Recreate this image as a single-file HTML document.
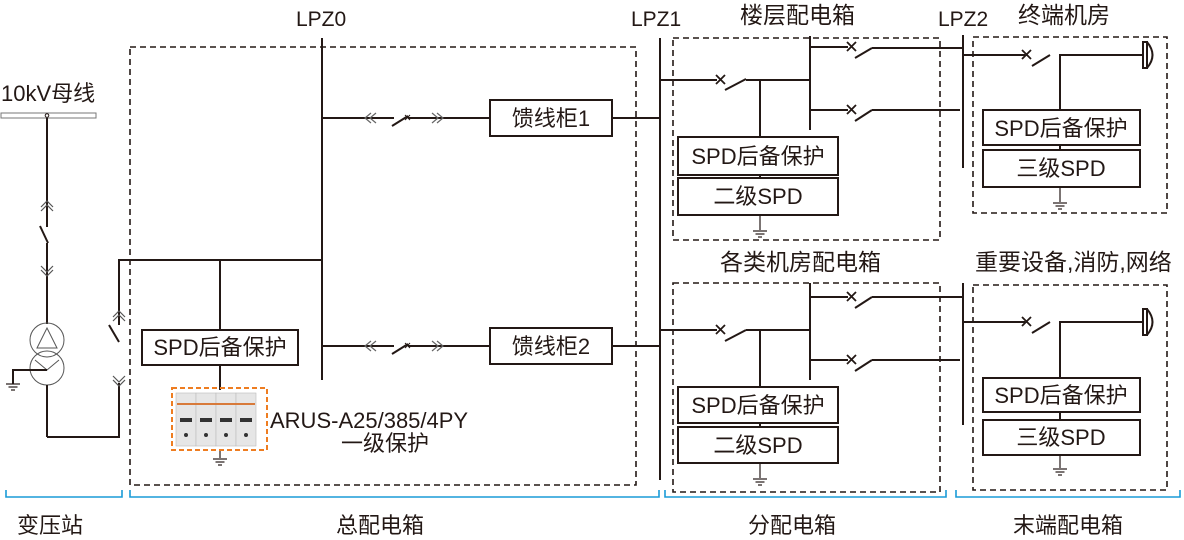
<!DOCTYPE html>
<html><head><meta charset="utf-8"><style>
html,body{margin:0;padding:0;background:#fff;}
svg{display:block;}
text{font-family:"Liberation Sans","Noto Sans CJK SC",sans-serif;fill:#231815;}
</style></head><body>
<svg width="1184" height="540" viewBox="0 0 1184 540" xmlns="http://www.w3.org/2000/svg">
<defs>
<g id="gnd" stroke="#231815" stroke-width="1.2"><line x1="-7" y1="0" x2="7" y2="0"/><line x1="-4.5" y1="3" x2="4.5" y2="3"/><line x1="-2" y1="6" x2="2" y2="6"/></g>
</defs>
<g fill="none" stroke="#231815" stroke-width="2">
<g stroke-dasharray="6,4" stroke-width="1.6">
<rect x="130" y="47" width="506" height="438"/>
<rect x="673" y="38" width="267" height="202"/>
<rect x="973" y="37" width="194" height="176"/>
<rect x="673" y="283" width="267" height="209"/>
<rect x="973" y="285" width="194" height="205"/>
</g>
<rect x="1" y="113" width="95" height="5" stroke="#777" stroke-width="1"/>
<circle cx="47" cy="115.5" r="1.8" stroke-width="1"/>
<line x1="47" y1="118" x2="47" y2="227"/>
<line x1="40" y1="226" x2="48" y2="243"/>
<line x1="47" y1="243" x2="47" y2="324"/>
<g stroke-width="1.2" stroke="#555"><polyline points="41,211 47,205 53,211"/><polyline points="41,207 47,201 53,207"/><polyline points="41,270 47,276 53,270"/><polyline points="41,266 47,272 53,266"/></g>
<circle cx="47" cy="340" r="17" stroke-width="1" stroke="#555"/>
<circle cx="47" cy="368" r="17" stroke-width="1" stroke="#555"/>
<polygon points="47,328 37,348 57,348" stroke-width="1" stroke="#555"/>
<polyline points="35,360 47,370 59,360" stroke-width="1" stroke="#555"/>
<polyline points="47,370 13,370 13,384"/>
<line x1="47" y1="385" x2="47" y2="437"/>
<polyline points="47,437 119,437 119,383"/>
<line x1="119" y1="342" x2="109" y2="325"/>
<polyline points="119,325 119,260 322,260"/>
<g stroke-width="1.2" stroke="#555"><polyline points="113,321 119,315 125,321"/><polyline points="113,317 119,311 125,317"/><polyline points="113,380 119,386 125,380"/><polyline points="113,376 119,382 125,376"/></g>
<line x1="322" y1="38" x2="322" y2="380"/>
<line x1="322" y1="118" x2="394" y2="118"/>
<line x1="392" y1="126" x2="408" y2="116"/>
<line x1="408" y1="118" x2="490" y2="118"/>
<line x1="322" y1="346" x2="394" y2="346"/>
<line x1="392" y1="354" x2="408" y2="344"/>
<line x1="408" y1="346" x2="490" y2="346"/>
<g stroke-width="1.2" stroke="#666"><polyline points="371,113 365,118 371,123"/><polyline points="376,113 370,118 376,123"/><polyline points="437,113 443,118 437,123"/><polyline points="432,113 438,118 432,123"/>
<polyline points="371,341 365,346 371,351"/><polyline points="376,341 370,346 376,351"/><polyline points="437,341 443,346 437,351"/><polyline points="432,341 438,346 432,351"/></g>
<rect x="490" y="100" width="122" height="36"/>
<rect x="490" y="328" width="122" height="36"/>
<line x1="612" y1="118" x2="660" y2="118"/>
<line x1="612" y1="346" x2="660" y2="346"/>
<line x1="220" y1="260" x2="220" y2="330"/>
<rect x="142" y="330" width="156" height="35"/>
<line x1="220" y1="365" x2="220" y2="390"/>
<line x1="220" y1="450" x2="220" y2="458" stroke-width="1.2"/>
<line x1="660" y1="38" x2="660" y2="480"/>
<line x1="660" y1="80" x2="717" y2="80"/>
<line x1="725" y1="90" x2="746" y2="79"/>
<line x1="746" y1="80" x2="810" y2="80"/>
<line x1="760" y1="80" x2="760" y2="137"/>
<rect x="678" y="137" width="160" height="38"/>
<line x1="760" y1="175" x2="760" y2="178"/>
<rect x="678" y="178" width="160" height="37"/>
<line x1="760" y1="215" x2="760" y2="230" stroke-width="1.2"/>
<line x1="810" y1="36" x2="810" y2="130"/>
<line x1="810" y1="47" x2="848" y2="47"/><line x1="855" y1="58" x2="872" y2="48"/><line x1="872" y1="48" x2="963" y2="48"/>
<line x1="810" y1="110" x2="848" y2="110"/><line x1="855" y1="121" x2="872" y2="110"/><line x1="872" y1="110" x2="960" y2="110"/>
<line x1="660" y1="330" x2="717" y2="330"/>
<line x1="725" y1="341" x2="746" y2="330"/>
<line x1="746" y1="330" x2="810" y2="330"/>
<line x1="760" y1="330" x2="760" y2="387"/>
<rect x="678" y="387" width="160" height="36"/>
<line x1="760" y1="423" x2="760" y2="427"/>
<rect x="678" y="427" width="160" height="36"/>
<line x1="760" y1="463" x2="760" y2="478" stroke-width="1.2"/>
<line x1="810" y1="283" x2="810" y2="380"/>
<line x1="810" y1="297" x2="848" y2="297"/><line x1="855" y1="308" x2="872" y2="297"/><line x1="872" y1="297" x2="963" y2="297"/>
<line x1="810" y1="360" x2="848" y2="360"/><line x1="855" y1="371" x2="872" y2="360"/><line x1="872" y1="360" x2="960" y2="360"/>
<line x1="963" y1="35" x2="963" y2="168"/>
<line x1="963" y1="55" x2="1025" y2="55"/><line x1="1032" y1="66" x2="1050" y2="55"/>
<polyline points="1060,110 1060,55 1143,55"/>
<path d="M1143,42 L1147,42 L1147,68 L1143,68 Z M1147,42 Q1158,55 1147,68"/>
<rect x="983" y="110" width="157" height="35"/>
<line x1="1060" y1="145" x2="1060" y2="150"/>
<rect x="983" y="150" width="157" height="37"/>
<line x1="1060" y1="187" x2="1060" y2="202" stroke-width="1.2"/>
<line x1="963" y1="283" x2="963" y2="425"/>
<line x1="963" y1="322" x2="1025" y2="322"/><line x1="1032" y1="333" x2="1050" y2="322"/>
<polyline points="1060,378 1060,322 1143,322"/>
<path d="M1143,309 L1147,309 L1147,335 L1143,335 Z M1147,309 Q1158,322 1147,335"/>
<rect x="983" y="378" width="157" height="34"/>
<line x1="1060" y1="412" x2="1060" y2="420"/>
<rect x="983" y="420" width="157" height="35"/>
<line x1="1060" y1="455" x2="1060" y2="468" stroke-width="1.2"/>
</g>
<g stroke="#231815" stroke-width="1.8">
<path d="M716,75 l9,9 M725,75 l-9,9"/><path d="M716,325 l9,9 M725,325 l-9,9"/>
<path d="M847,42 l9,9 M856,42 l-9,9"/><path d="M847,105 l9,9 M856,105 l-9,9"/>
<path d="M847,292 l9,9 M856,292 l-9,9"/><path d="M847,355 l9,9 M856,355 l-9,9"/>
<path d="M1022,50 l9,9 M1031,50 l-9,9"/><path d="M1022,317 l9,9 M1031,317 l-9,9"/>
<path d="M405,115 l5,5 M410,115 l-5,5" stroke-width="1"/><path d="M405,343 l5,5 M410,343 l-5,5" stroke-width="1"/>
</g>
<use href="#gnd" x="13" y="384"/>
<use href="#gnd" x="220" y="459"/>
<use href="#gnd" x="760" y="231"/>
<use href="#gnd" x="760" y="479"/>
<use href="#gnd" x="1060" y="203"/>
<use href="#gnd" x="1060" y="469"/>
<rect x="172" y="388" width="95" height="62" fill="none" stroke="#ee7d21" stroke-width="2" stroke-dasharray="5,3"/>
<g fill="#e6e6e6" stroke="#bbb" stroke-width="0.6">
<rect x="176" y="393" width="20" height="53"/><rect x="196" y="393" width="20" height="53"/><rect x="216" y="393" width="20" height="53"/><rect x="236" y="393" width="20" height="53"/>
</g>
<g fill="#d87a3a"><rect x="177" y="403" width="78" height="2"/></g>
<g fill="#333"><rect x="180" y="418" width="12" height="4"/><rect x="200" y="418" width="12" height="4"/><rect x="220" y="418" width="12" height="4"/><rect x="240" y="418" width="12" height="4"/>
<circle cx="186" cy="435" r="2"/><circle cx="206" cy="435" r="2"/><circle cx="226" cy="435" r="2"/><circle cx="246" cy="435" r="2"/></g>
<g fill="none" stroke="#1a9bd7" stroke-width="1.6">
<polyline points="6,490 6,497 122,497 122,490"/>
<polyline points="130,490 130,497 659,497 659,490"/>
<polyline points="665,490 665,497 946,497 946,490"/>
<polyline points="956,490 956,497 1180,497 1180,490"/>
</g>
<g font-size="22">
<text x="1" y="101">10kV母线</text>
<text x="296" y="26" font-size="21">LPZ0</text>
<text x="631" y="26" font-size="21">LPZ1</text>
<text x="740" y="23" font-size="23">楼层配电箱</text>
<text x="938" y="26" font-size="21">LPZ2</text>
<text x="1018" y="23" font-size="23">终端机房</text>
<text x="551" y="126" text-anchor="middle">馈线柜1</text>
<text x="551" y="354" text-anchor="middle">馈线柜2</text>
<text x="220" y="355" text-anchor="middle">SPD后备保护</text>
<text x="270" y="428">ARUS-A25/385/4PY</text>
<text x="385" y="451" text-anchor="middle">一级保护</text>
<text x="758" y="164" text-anchor="middle">SPD后备保护</text>
<text x="758" y="204" text-anchor="middle">二级SPD</text>
<text x="758" y="413" text-anchor="middle">SPD后备保护</text>
<text x="758" y="453" text-anchor="middle">二级SPD</text>
<text x="1061" y="136" text-anchor="middle">SPD后备保护</text>
<text x="1061" y="176" text-anchor="middle">三级SPD</text>
<text x="1061" y="403" text-anchor="middle">SPD后备保护</text>
<text x="1061" y="445" text-anchor="middle">三级SPD</text>
<text x="720" y="270" font-size="23">各类机房配电箱</text>
<text x="975" y="270" font-size="23">重要设备,消防,网络</text>
<text x="50" y="533" text-anchor="middle">变压站</text>
<text x="380" y="533" text-anchor="middle">总配电箱</text>
<text x="792" y="533" text-anchor="middle">分配电箱</text>
<text x="1068" y="533" text-anchor="middle">末端配电箱</text>
</g>
</svg>
</body></html>
